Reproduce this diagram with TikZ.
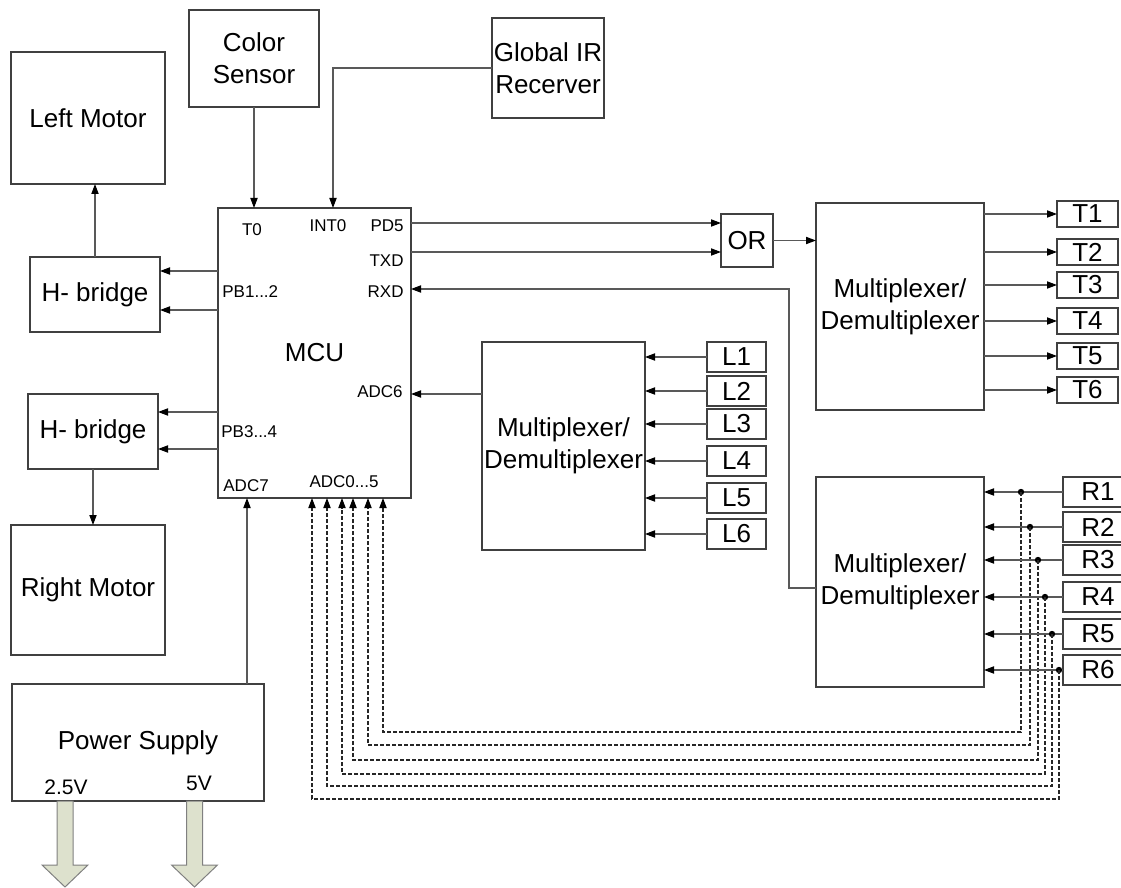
\documentclass[tikz,border=0pt]{standalone}
\usepackage{fontspec}
\setmainfont{Liberation Sans}
\usetikzlibrary{arrows.meta, positioning}

\definecolor{sage}{RGB}{221,225,205}
\newcommand{\lblfont}{\fontsize{13}{16}\selectfont}
\newcommand{\pinfont}{\fontsize{8.5}{10}\selectfont}
\newcommand{\voltfont}{\fontsize{10.5}{12}\selectfont}

\begin{document}
\begin{tikzpicture}[
  x=0.5pt, y=-0.5pt,
  font=\lblfont,
  box/.style={rectangle, draw=black!75, line width=0.6pt, align=center,
              inner sep=0pt, outer sep=0pt},
  tbox/.style={box, minimum width=30.5pt, minimum height=13pt},
  lbox/.style={box, minimum width=29.5pt, minimum height=15pt},
  rbox/.style={box, minimum width=35pt, minimum height=15pt},
  pin/.style={font=\pinfont, inner sep=0pt},
  arr/.style={draw=black!65, line width=0.55pt,
              -{Triangle[length=5pt, width=3.6pt, color=black]}},
  dasharr/.style={arr, draw=black!85, dash pattern=on 2pt off 1pt},
  fatarrow/.style={draw=black!50, line width=0.5pt, fill=sage}]
  \useasboundingbox (0,0) rectangle (1121,888);
  \clip (0,0) rectangle (1121,888);

  \node[box, minimum width=77pt, minimum height=66pt] (lmotor) at (88,118) {Left Motor};
  \node[box, minimum width=65pt, minimum height=48.5pt] (color) at (254,58.5) {Color\\Sensor};
  \node[box, minimum width=56pt, minimum height=50pt] (irrx) at (548,68) {Global IR\\Recerver};
  \node[box, minimum width=96.5pt, minimum height=145pt] (mcu) at (314.5,353) {MCU};
  \node[box, minimum width=65pt, minimum height=37.5pt] (hb1) at (95,294.5) {H- bridge};
  \node[box, minimum width=65pt, minimum height=37.5pt] (hb2) at (93,431.5) {H- bridge};
  \node[box, minimum width=77pt, minimum height=65pt] (rmotor) at (88,590) {Right Motor};
  \node[box, minimum width=126pt, minimum height=58.5pt] (power) at (138,742.5) {Power Supply};
  \node[box, minimum width=26pt, minimum height=26.5pt] (orgate) at (747,240.5) {OR};
  \node[box, minimum width=84pt, minimum height=103.5pt] (mux1) at (900,306.5) {Multiplexer/\\Demultiplexer};
  \node[box, minimum width=81.5pt, minimum height=104pt] (mux2) at (563.5,446) {Multiplexer/\\Demultiplexer};
  \node[box, minimum width=84pt, minimum height=105pt] (mux3) at (900,582) {Multiplexer/\\Demultiplexer};

  \node[pin] (pT0) at (252,230) {T0};
  \node[pin] (pINT0) at (328,226) {INT0};
  \node[pin, anchor=east] (pPD5) at (404,226) {PD5};
  \node[pin, anchor=east] (pTXD) at (404,261) {TXD};
  \node[pin, anchor=east] (pRXD) at (404,292) {RXD};
  \node[pin, anchor=east] (pADC6) at (403,392) {ADC6};
  \node[pin, anchor=west] (pPB12) at (222,292) {PB1...2};
  \node[pin, anchor=west] (pPB34) at (221,432) {PB3...4};
  \node[pin, anchor=west] (pADC7) at (223,486) {ADC7};
  \node[pin] (pADC05) at (344,482) {ADC0...5};
  \node[font=\voltfont, inner sep=0pt] (v25) at (66,787) {2.5V};
  \node[font=\voltfont, inner sep=0pt] (v5) at (199,783) {5V};

  \coordinate (irdrop) at (333,0);
  \coordinate (pbA) at (218,271);
  \coordinate (pbB) at (218,310);
  \coordinate (pbC) at (218,412);
  \coordinate (pbD) at (218,449);
  \coordinate (pd5) at (411,223);
  \coordinate (txd) at (411,252);
  \coordinate (rxd) at (411,289);
  \coordinate (rxbend) at (789,588);
  \coordinate (adc6) at (411,394);
  \coordinate (adc7) at (247,498);

  \draw[arr] (color) -- (color |- mcu.north);
  \draw[arr] (irrx.west) -| (irdrop |- mcu.north);
  \draw[arr] (hb1) -- (hb1 |- lmotor.south);
  \draw[arr] (hb2) -- (hb2 |- rmotor.north);
  \foreach \p/\hb in {pbA/hb1, pbB/hb1, pbC/hb2, pbD/hb2}
    \draw[arr] (\p) -- (\p -| \hb.east);
  \draw[arr] (pd5) -- (pd5 -| orgate.west);
  \draw[arr] (txd) -- (txd -| orgate.west);
  \draw[arr] (orgate) -- (orgate -| mux1.west);
  \draw[arr] (rxbend -| mux3.west) -- (rxbend) |- (rxd);
  \draw[arr] (adc6 -| mux2.west) -- (adc6);
  \draw[arr] (adc7 |- power.north) -- (adc7);

  \foreach \i/\y in {1/214, 2/252, 3/285, 4/321, 5/356, 6/390} {
    \node[tbox] (t\i) at (1087.5,\y) {T\i};
    \draw[arr] (mux1.east |- t\i) -- (t\i);
  }
  \foreach \i/\y in {1/357, 2/391, 3/424, 4/461, 5/498, 6/534} {
    \node[lbox] (l\i) at (736.5,\y) {L\i};
    \draw[arr] (l\i) -- (l\i -| mux2.east);
  }
  \foreach \i/\y/\dx/\hy/\px in {1/492/1021/732/383, 2/527/1030/745/368,
      3/560/1038/760/353, 4/597/1045/774/342, 5/634/1052/786/327, 6/670/1059/799/312} {
    \node[rbox] (r\i) at (1098,\y) {R\i};
    \draw[arr] (r\i) -- (r\i -| mux3.east);
    \coordinate (tap\i) at (\dx,\y);
    \coordinate (bend\i) at (\px,\hy);
    \fill (tap\i) circle (1.6pt);
    \draw[dasharr] (tap\i) |- (bend\i) -- (bend\i |- mcu.south);
  }

  \foreach \vx in {65, 194.5}
    \draw[fatarrow, shift={(\vx,801)}] (-8,0) -- (8,0) -- (8,64) -- (23,64)
      -- (0,86) -- (-23,64) -- (-8,64) -- cycle;
\end{tikzpicture}
\end{document}
